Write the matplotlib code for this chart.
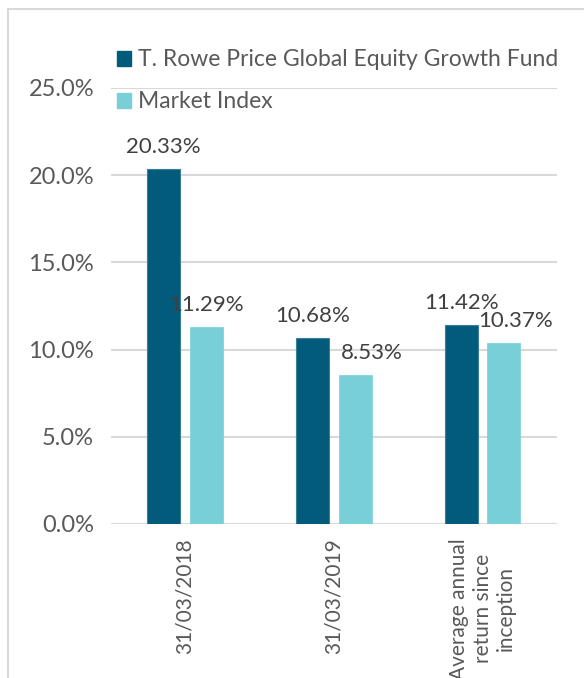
import matplotlib
matplotlib.use("Agg")
import matplotlib.pyplot as plt
import numpy as np
from matplotlib.patches import Rectangle, Patch
from matplotlib.ticker import FuncFormatter

plt.rcParams['font.family'] = ['Lato', 'DejaVu Sans']

categories = ["31/03/2018", "31/03/2019", "Average annual\nreturn since\ninception"]
series_names = ["T. Rowe Price Global Equity Growth Fund", "Market Index"]
fund = [20.33, 10.68, 11.42]
index = [11.29, 8.53, 10.37]
fund_labels = ["20.33%", "10.68%", "11.42%"]
index_labels = ["11.29%", "8.53%", "10.37%"]
# horizontal nudges (px) of the data labels, as placed in the original
fund_label_dx = [0, 0, 0]
index_label_dx = [0, 17, 12]
yticks = [0, 5, 10, 15, 20, 25]

dark = "#035B7B"
light = "#78CFD8"
grid_c = "#D9D9D9"
tick_c = "#595959"
lab_c = "#404040"
fs_tick = 17
fs_xtick = 15
fs_lab = 16
fs_leg = 16.5

W, H = 584, 678
fig = plt.figure(figsize=(W/100, H/100), dpi=100)
ax = fig.add_axes([110.7/W, 1-524/H, 446.3/W, 436/H])

x = np.arange(len(categories))
bw = 0.222
off = 0.143
b1 = ax.bar(x - off, fund, bw, color=dark, edgecolor="#3A7E98", linewidth=0.8, zorder=3)
b2 = ax.bar(x + off, index, bw, color=light, edgecolor=light, linewidth=0.5, zorder=3)

for rects, labs, dxs in ((b1, fund_labels, fund_label_dx), (b2, index_labels, index_label_dx)):
    for r, lab, dx in zip(rects, labs, dxs):
        ax.annotate(lab, (r.get_x() + r.get_width()/2, r.get_height()),
                    xytext=(dx*0.72, 11.5), textcoords="offset points",
                    ha="center", va="baseline", fontsize=fs_lab, color=lab_c, zorder=5)

ax.set_xlim(-0.5, 2.5)
ax.set_ylim(0, 25)
ax.set_yticks(yticks)
ax.yaxis.set_major_formatter(FuncFormatter(lambda v, p: f"{v:.1f}%"))
ax.grid(axis="y", color=grid_c, linewidth=1.5, zorder=0)
for s in ax.spines.values():
    s.set_visible(False)
ax.tick_params(axis="y", length=0, labelsize=fs_tick, colors=tick_c, pad=12)
ax.tick_params(axis="x", length=0, labelsize=fs_xtick, colors=tick_c, pad=10)
ax.set_xticks(x)
ax.set_xticklabels(categories, rotation=90, ha="center", va="top", multialignment="center",
                   linespacing=1.22)
ax.set_axisbelow(True)

handles = [Patch(facecolor=dark, edgecolor=dark), Patch(facecolor=light, edgecolor=light)]
leg = fig.legend(handles, series_names, loc="upper left",
                 bbox_to_anchor=(117/W, 1-49.5/H), frameon=False, fontsize=fs_leg,
                 handlelength=0.62, handleheight=0.62, handletextpad=0.3,
                 labelspacing=0.91, borderaxespad=0, borderpad=0)
for t in leg.get_texts():
    t.set_color(tick_c)

# outer light-grey frame (right/bottom edges lie outside the image)
fig.patches.append(Rectangle((7.5/W, -0.2), 1.5, 1.2 - 9/H, transform=fig.transFigure,
                             fill=False, edgecolor=grid_c, linewidth=1.5))

fig.savefig("out.png", dpi=100)
